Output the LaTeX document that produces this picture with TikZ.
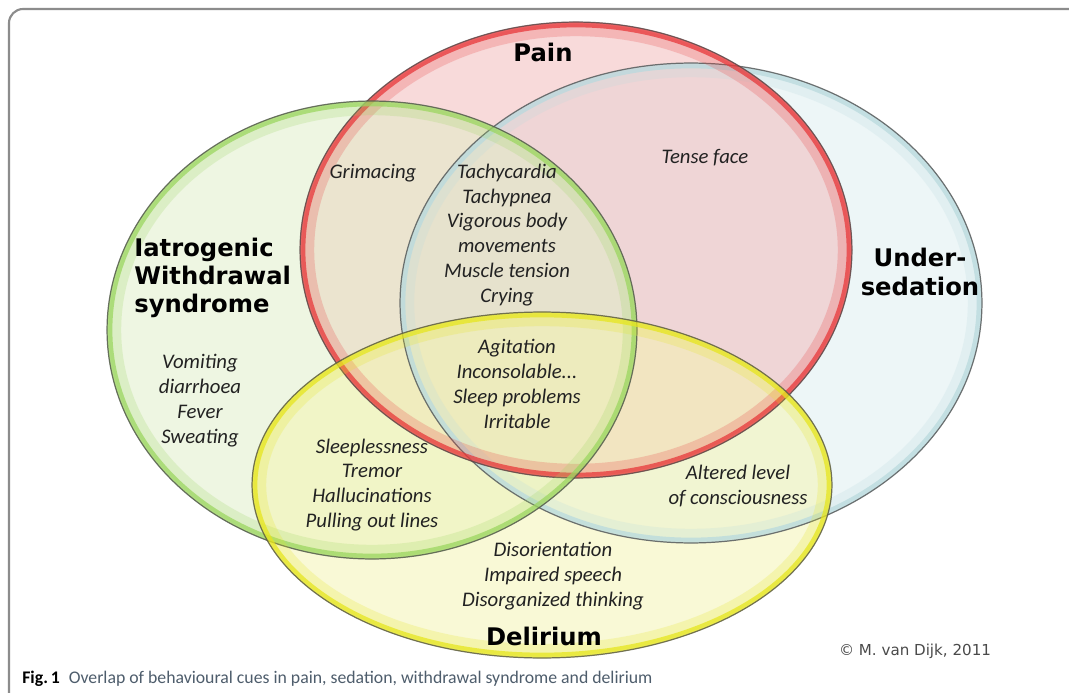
\documentclass[tikz,border=0pt]{standalone}
\usepackage{fontspec}
\setmainfont{Carlito}
\newfontfamily\labelfont{DejaVu Sans}
\usetikzlibrary{positioning}
\definecolor{clrpain}{HTML}{F2B6B6}
\definecolor{clrpainrim}{HTML}{E8383A}
\definecolor{clrsed}{HTML}{DDEFF1}
\definecolor{clrsedrim}{HTML}{B9DADE}
\definecolor{clrwith}{HTML}{DFEFC6}
\definecolor{clrwithrim}{HTML}{9CD660}
\definecolor{clrdel}{HTML}{F5F5AE}
\definecolor{clrdelrim}{HTML}{E6E61E}
\definecolor{clredge}{HTML}{4A4A4A}
\definecolor{clrtext}{HTML}{222222}
\definecolor{clrframe}{HTML}{8C8C8C}
\definecolor{clrcaption}{HTML}{4E5D6C}

\begin{document}
\begin{tikzpicture}[
    x=0.02cm, y=-0.02cm,
    every node/.style={inner sep=0pt},
    setfill/.style={fill=#1, fill opacity=0.5, draw=none},
    band/.style={draw=#1, line width=3.2pt, draw opacity=0.75},
    glow/.style={draw=#1, line width=7pt, draw opacity=0.22},
    rim/.style={draw=clredge, line width=0.7pt, draw opacity=0.75},
    setlabel/.style={font=\labelfont\bfseries\fontsize{13.8}{16}\selectfont, text=black, align=center},
    cue/.style={font=\itshape\fontsize{11.8}{14.2}\selectfont, text=clrtext, align=center},
]
\useasboundingbox (0,0) rectangle (1069,693);
\fill[white] (0,0) rectangle (1069,693);
% frame of the figure
\draw[clrframe, line width=1.2pt, rounded corners=8pt] (9,693) -- (9,9) -- (1075,9);

% the four sets
\fill[setfill=clrsed] (691,303) ellipse [x radius=5.82cm, y radius=4.80cm];
\fill[setfill=clrpain] (576,250) ellipse [x radius=5.52cm, y radius=4.56cm];
\fill[setfill=clrwith] (372,330) ellipse [x radius=5.30cm, y radius=4.58cm];
\fill[setfill=clrdel] (542,485) ellipse [x radius=5.80cm, y radius=3.46cm];

\draw[glow=clrsedrim] (691,303) ellipse [x radius=5.66cm, y radius=4.64cm];
\draw[band=clrsedrim] (691,303) ellipse [x radius=5.77cm, y radius=4.75cm];
\draw[rim] (691,303) ellipse [x radius=5.82cm, y radius=4.80cm];
\draw[glow=clrpainrim] (576,250) ellipse [x radius=5.36cm, y radius=4.40cm];
\draw[band=clrpainrim] (576,250) ellipse [x radius=5.47cm, y radius=4.51cm];
\draw[rim] (576,250) ellipse [x radius=5.52cm, y radius=4.56cm];
\draw[glow=clrwithrim] (372,330) ellipse [x radius=5.14cm, y radius=4.42cm];
\draw[band=clrwithrim] (372,330) ellipse [x radius=5.25cm, y radius=4.53cm];
\draw[rim] (372,330) ellipse [x radius=5.30cm, y radius=4.58cm];
\draw[glow=clrdelrim] (542,485) ellipse [x radius=5.64cm, y radius=3.30cm];
\draw[band=clrdelrim] (542,485) ellipse [x radius=5.75cm, y radius=3.41cm];
\draw[rim] (542,485) ellipse [x radius=5.80cm, y radius=3.46cm];

% set names
\node[setlabel] (pain) at (543,52) {Pain};
\node[setlabel] (sedation) at (920,272) {Under-\\sedation};
\node[setlabel, align=left, anchor=west] (withdrawal) at (134,278) {Iatrogenic\\Withdrawal\\syndrome};
\node[setlabel] (delirium) at (544,636) {Delirium};

% behavioural cues
\node[cue] (grimacing) at (373,173) {Grimacing};
\node[cue] (tense) at (705,158) {Tense face};
\node[cue] (core) at (507,235) {Tachycardia\\Tachypnea\\Vigorous body\\movements\\Muscle tension\\Crying};
\node[cue] (agitation) at (517,384) {Agitation\\Inconsolable...\\Sleep problems\\Irritable};
\node[cue] (vomiting) at (200,401) {Vomiting\\diarrhoea\\Fever\\Sweating};
\node[cue] (sleepless) at (372,485) {Sleeplessness\\Tremor\\Hallucinations\\Pulling out lines};
\node[cue] (altered) at (738,486) {Altered level\\of consciousness};
\node[cue] (disorient) at (553,576) {Disorientation\\Impaired speech\\Disorganized thinking};

% credit and caption
\node[font=\labelfont\fontsize{8.6}{10}\selectfont, text=clredge] (credit) at (915,651) {\textcopyright{} M. van Dijk, 2011};
\node[anchor=west, font=\fontsize{10.1}{12}\selectfont, text=clrcaption] (caption) at (22,679) {\textbf{\color{black}Fig.\,1}\enspace Overlap of behavioural cues in pain, sedation, withdrawal syndrome and delirium};
\end{tikzpicture}
\end{document}
